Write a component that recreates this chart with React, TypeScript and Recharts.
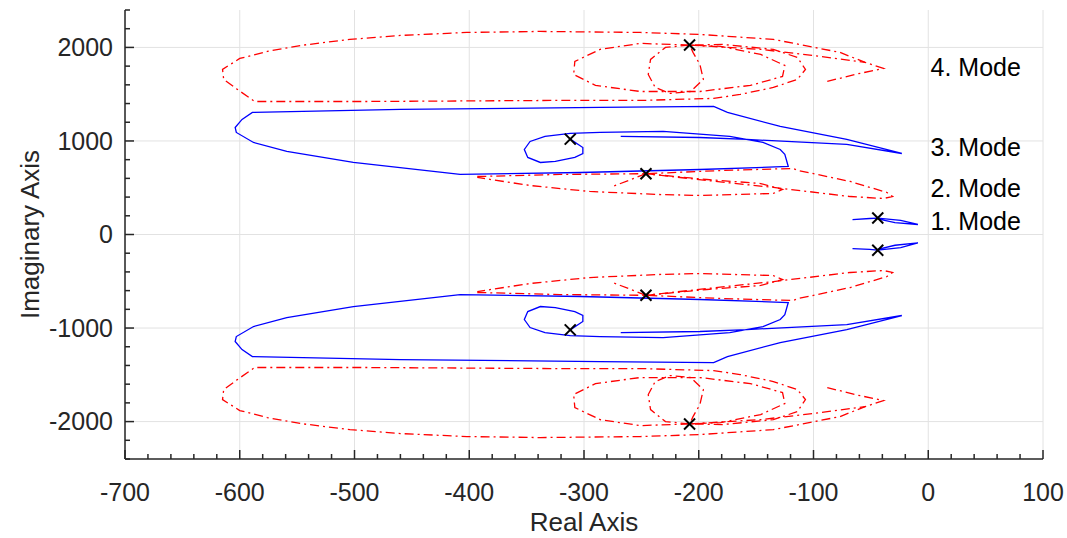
import { ScatterChart, Scatter, XAxis, YAxis, CartesianGrid } from "recharts";

type P = [number, number];

// axis ticks
const X_TICKS = Array.from({ length: 41 }, (_, i) => -700 + i * 20);
const Y_TICKS = Array.from({ length: 25 }, (_, i) => -2400 + i * 200);
const X_GRID = [-700, -600, -500, -400, -300, -200, -100, 0, 100];
const Y_GRID = [-2000, -1000, 0, 1000, 2000];

// mode 4 (red, dash-dot)
const MODE4_OUTER_UP: P[] = [[-88,1636],[-64,1711],[-39,1775],[-55,1840],[-77,1947],[-135,2086],[-199,2139],[-251,2160],[-338,2171],[-402,2160],[-460,2128],[-504,2086],[-547,2021],[-576,1957],[-600,1882],[-615,1765],[-614,1658],[-602,1551],[-587,1422],[-489,1422],[-329,1433],[-251,1433],[-187,1455],[-164,1497],[-135,1572],[-114,1658],[-107,1765],[-114,1893],[-135,1979],[-179,2032],[-208,2025]];
const MODE4_OUTER_LO: P[] = [[-88,-1636],[-64,-1711],[-39,-1775],[-55,-1840],[-77,-1947],[-135,-2086],[-199,-2139],[-251,-2160],[-338,-2171],[-402,-2160],[-460,-2128],[-504,-2086],[-547,-2021],[-576,-1957],[-600,-1882],[-615,-1765],[-614,-1658],[-602,-1551],[-587,-1422],[-489,-1422],[-329,-1433],[-251,-1433],[-187,-1455],[-164,-1497],[-135,-1572],[-114,-1658],[-107,-1765],[-114,-1893],[-135,-1979],[-179,-2032],[-208,-2025]];
const MODE4_LINK_UP: P[] = [[-208,2025],[-146,1979],[-94,1904],[-55,1840]];
const MODE4_LINK_LO: P[] = [[-208,-2025],[-146,-1979],[-94,-1904],[-55,-1840]];
const MODE4_RING_UP: P[] = [[-208,2025],[-251,2043],[-286,1979],[-308,1850],[-309,1711],[-290,1594],[-251,1529],[-199,1529],[-155,1594],[-127,1690],[-125,1807],[-146,1925],[-181,2011],[-208,2025]];
const MODE4_RING_LO: P[] = [[-208,-2025],[-251,-2043],[-286,-1979],[-308,-1850],[-309,-1711],[-290,-1594],[-251,-1529],[-199,-1529],[-155,-1594],[-127,-1690],[-125,-1807],[-146,-1925],[-181,-2011],[-208,-2025]];
const MODE4_DROP_UP: P[] = [[-208,2025],[-229,2000],[-242,1872],[-244,1711],[-238,1572],[-225,1508],[-207,1529],[-196,1658],[-199,1818],[-205,1947],[-208,2025]];
const MODE4_DROP_LO: P[] = [[-208,-2025],[-229,-2000],[-242,-1872],[-244,-1711],[-238,-1572],[-225,-1508],[-207,-1529],[-196,-1658],[-199,-1818],[-205,-1947],[-208,-2025]];

// mode 3 (blue, solid)
const MODE3_UP: P[] = [[-268,1048],[-199,1037],[-158,1016],[-71,963],[-23,866],[-71,1016],[-129,1155],[-175,1305],[-187,1369],[-286,1358],[-460,1337],[-589,1305],[-598,1230],[-604,1144],[-603,1091],[-588,984],[-559,888],[-501,770],[-408,642],[-303,663],[-199,695],[-122,727],[-125,856],[-129,909],[-144,984],[-173,1048],[-231,1102],[-286,1091],[-312,1080],[-334,1048],[-347,995],[-352,909],[-349,824],[-338,770],[-325,781],[-308,824],[-301,866],[-301,930],[-312,1020]];
const MODE3_LO: P[] = [[-268,-1048],[-199,-1037],[-158,-1016],[-71,-963],[-23,-866],[-71,-1016],[-129,-1155],[-175,-1305],[-187,-1369],[-286,-1358],[-460,-1337],[-589,-1305],[-598,-1230],[-604,-1144],[-603,-1091],[-588,-984],[-559,-888],[-501,-770],[-408,-642],[-303,-663],[-199,-695],[-122,-727],[-125,-856],[-129,-909],[-144,-984],[-173,-1048],[-231,-1102],[-286,-1091],[-312,-1080],[-334,-1048],[-347,-995],[-352,-909],[-349,-824],[-338,-770],[-325,-781],[-308,-824],[-301,-866],[-301,-930],[-312,-1020]];

// mode 2 (red, dash-dot)
const MODE2_A_UP: P[] = [[-393,620],[-321,642],[-246,650],[-181,684],[-118,706],[-113,684],[-68,567],[-36,449],[-31,406],[-39,385],[-68,406],[-105,460],[-135,503],[-193,578],[-246,650]];
const MODE2_A_LO: P[] = [[-393,-620],[-321,-642],[-246,-650],[-181,-684],[-118,-706],[-113,-684],[-68,-567],[-36,-449],[-31,-406],[-39,-385],[-68,-406],[-105,-460],[-135,-503],[-193,-578],[-246,-650]];
const MODE2_B_UP: P[] = [[-246,650],[-193,588],[-146,545],[-127,481],[-135,439],[-199,417],[-236,428],[-295,460],[-347,524],[-393,610]];
const MODE2_B_LO: P[] = [[-246,-650],[-193,-588],[-146,-545],[-127,-481],[-135,-439],[-199,-417],[-236,-428],[-295,-460],[-347,-524],[-393,-610]];
const MODE2_C_UP: P[] = [[-246,650],[-275,513]];
const MODE2_C_LO: P[] = [[-246,-650],[-275,-513]];

// mode 1 (blue, solid)
const MODE1_UP: P[] = [[-66,160],[-51,171],[-44,176],[-24,150],[-9,107],[-29,128],[-44,168]];
const MODE1_LO: P[] = [[-66,-150],[-51,-160],[-44,-168],[-24,-140],[-9,-90],[-29,-115],[-44,-160]];

// open-loop poles
const POLE_RE = [-208, -312, -246, -44, -208, -312, -246, -44];
const POLE_IM = [2025, 1020, 650, 176, -2025, -1020, -650, -168];

// mode labels
const MODE_LABELS = ["4. Mode", "3. Mode", "2. Mode", "1. Mode"];
const MODE_LABEL_IM = [1790, 930, 490, 140];
const MODE_LABEL_RE = 2;

const RED = "#ff0000";
const BLUE = "#0000ff";
const AXIS = "#262626";
const FONT = "'Liberation Sans', Arial, sans-serif";
const TICK_FS = 25;
const LABEL_FS = 26;

const pts = (a: P[]) => a.map(([x, y]) => ({ x, y }));
const poles = POLE_RE.map((x, i) => ({ x, y: POLE_IM[i] }));
const labels = MODE_LABELS.map((label, i) => ({ x: MODE_LABEL_RE, y: MODE_LABEL_IM[i], label }));

const redCurves = [MODE4_OUTER_UP, MODE4_OUTER_LO, MODE4_LINK_UP, MODE4_LINK_LO, MODE4_RING_UP, MODE4_RING_LO, MODE4_DROP_UP, MODE4_DROP_LO, MODE2_A_UP, MODE2_A_LO, MODE2_B_UP, MODE2_B_LO, MODE2_C_UP, MODE2_C_LO];
const blueCurves = [MODE3_UP, MODE3_LO, MODE1_UP, MODE1_LO];

const XTick = ({ x, y, payload }: any) => {
  const major = payload.value % 100 === 0;
  return (
    <g>
      <line x1={x} x2={x} y1={y} y2={y - (major ? 9 : 5)} stroke={AXIS} strokeWidth={1.5} />
      {major && (
        <text x={x} y={y + 42} textAnchor="middle" fontSize={TICK_FS} fontFamily={FONT} fill={AXIS}>
          {payload.value}
        </text>
      )}
    </g>
  );
};

const YTick = ({ x, y, payload }: any) => {
  const major = payload.value % 1000 === 0;
  return (
    <g>
      <line x1={x} x2={x + (major ? 9 : 5)} y1={y} y2={y} stroke={AXIS} strokeWidth={1.5} />
      {major && (
        <text x={x - 12} y={y} dy="0.35em" textAnchor="end" fontSize={TICK_FS} fontFamily={FONT} fill={AXIS}>
          {payload.value}
        </text>
      )}
    </g>
  );
};

const Nothing = () => <g />;

const Cross = ({ cx, cy }: any) => (
  <g stroke="#000" strokeWidth={2}>
    <line x1={cx - 5.5} y1={cy - 5.5} x2={cx + 5.5} y2={cy + 5.5} />
    <line x1={cx - 5.5} y1={cy + 5.5} x2={cx + 5.5} y2={cy - 5.5} />
  </g>
);

const ModeText = ({ cx, cy, payload }: any) => (
  <text x={cx} y={cy} dy="0.35em" fontSize={TICK_FS} fontFamily={FONT} fill="#000">
    {payload.label}
  </text>
);

export default function App() {
  return (
    <div style={{ position: "absolute", left: 0, top: 0, background: "#fff" }}>
      <ScatterChart width={1067} height={538} margin={{ top: 10, right: 24, left: 10, bottom: 0 }}>
        <CartesianGrid stroke="#e2e2e2" strokeWidth={1} horizontalValues={Y_GRID} verticalValues={X_GRID} />
        <XAxis
          type="number"
          dataKey="x"
          domain={[-700, 100]}
          allowDataOverflow
          ticks={X_TICKS}
          interval={0}
          tickSize={0}
          tickMargin={0}
          height={79}
          stroke={AXIS}
          axisLine={{ stroke: AXIS, strokeWidth: 1.5 }}
          tick={<XTick />}
          label={{
            content: ({ viewBox }: any) => (
              <text x={viewBox.x + viewBox.width / 2} y={viewBox.y + viewBox.height - 7} textAnchor="middle" fontSize={LABEL_FS} fontFamily={FONT} fill={AXIS}>
                Real Axis
              </text>
            ),
          }}
        />
        <YAxis
          type="number"
          dataKey="y"
          domain={[-2400, 2400]}
          allowDataOverflow
          ticks={Y_TICKS}
          interval={0}
          tickSize={0}
          tickMargin={0}
          width={115}
          axisLine={{ stroke: AXIS, strokeWidth: 1.5 }}
          tick={<YTick />}
          label={{
            content: ({ viewBox }: any) => {
              const cx = viewBox.x + 20;
              const cy = viewBox.y + viewBox.height / 2;
              return (
                <text x={cx} y={cy} transform={`rotate(-90 ${cx} ${cy})`} textAnchor="middle" dy="0.35em" fontSize={LABEL_FS} fontFamily={FONT} fill={AXIS}>
                  Imaginary Axis
                </text>
              );
            },
          }}
        />
        {redCurves.map((c, i) => (
          <Scatter
            key={`r${i}`}
            data={pts(c)}
            fill={RED}
            shape={<Nothing />}
            line={{ stroke: RED, strokeWidth: 1.3, strokeDasharray: "9 4 2 4" }}
            isAnimationActive={false}
          />
        ))}
        {blueCurves.map((c, i) => (
          <Scatter
            key={`b${i}`}
            data={pts(c)}
            fill={BLUE}
            shape={<Nothing />}
            line={{ stroke: BLUE, strokeWidth: 1.3 }}
            isAnimationActive={false}
          />
        ))}
        <Scatter data={poles} fill="#000" shape={<Cross />} isAnimationActive={false} />
        <Scatter data={labels} fill="#000" shape={<ModeText />} isAnimationActive={false} />
      </ScatterChart>
    </div>
  );
}
